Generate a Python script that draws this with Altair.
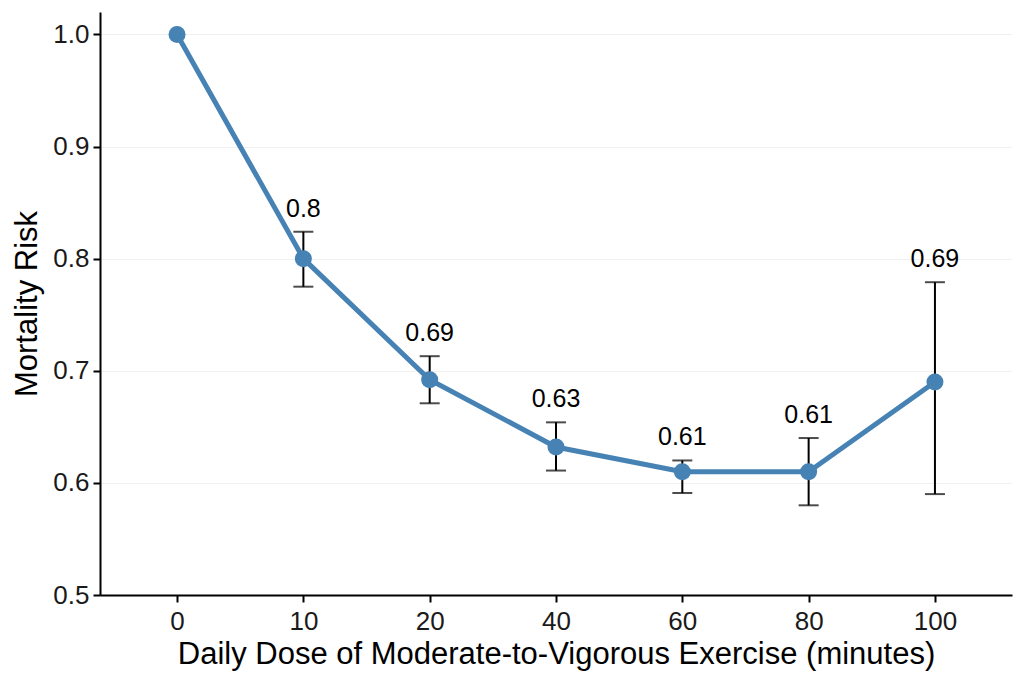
import altair as alt
import pandas as pd

doses = ["0", "10", "20", "40", "60", "80", "100"]
risk = [1.0, 0.8, 0.692, 0.632, 0.61, 0.61, 0.69]
lower = [None, 0.775, 0.671, 0.611, 0.591, 0.58, 0.59]
upper = [None, 0.824, 0.713, 0.654, 0.62, 0.64, 0.779]
labels = ["", "0.8", "0.69", "0.63", "0.61", "0.61", "0.69"]

df = pd.DataFrame({"dose": doses, "risk": risk, "lower": lower,
                   "upper": upper, "label": labels})
err = df[df["lower"].notna()]

FONT = "Liberation Sans"
BLUE = "#4682b4"

xscale = alt.Scale(type="point", padding=0.61)
x = alt.X("dose:O", sort=doses, scale=xscale,
          axis=alt.Axis(title="Daily Dose of Moderate-to-Vigorous Exercise (minutes)",
                        labelAngle=0, grid=False))
xs = alt.X("dose:O", sort=doses, scale=xscale)
yscale = alt.Scale(domain=[0.5, 1.02], nice=False, zero=False)
y = alt.Y("risk:Q", scale=yscale,
          axis=alt.Axis(title="Mortality Risk", values=[0.5, 0.6, 0.7, 0.8, 0.9, 1.0],
                        format=".1f", grid=True))

line = alt.Chart(df).mark_line(color=BLUE, strokeWidth=5).encode(x=x, y=y)
pts = alt.Chart(df).mark_circle(color=BLUE, size=290, opacity=1).encode(x=x, y=y)

rules = alt.Chart(err).mark_rule(color="black", strokeWidth=2).encode(
    x=xs, y=alt.Y("lower:Q", scale=yscale), y2="upper:Q")
cap_lo = alt.Chart(err).mark_tick(color="black", thickness=2, size=20).encode(
    x=xs, y=alt.Y("lower:Q", scale=yscale))
cap_hi = alt.Chart(err).mark_tick(color="black", thickness=2, size=20).encode(
    x=xs, y=alt.Y("upper:Q", scale=yscale))

text = alt.Chart(err).mark_text(font=FONT, fontSize=25, color="black",
                                baseline="alphabetic", dy=-15).encode(
    x=xs, y=alt.Y("upper:Q", scale=yscale), text="label:N")

chart = alt.layer(line, rules, cap_lo, cap_hi, pts, text).properties(
    width=912, height=583,
    autosize=alt.AutoSizeParams(type="none"),
    padding={"left": 92, "top": 4, "right": 4, "bottom": 80},
).configure_view(stroke=None).configure_axis(
    domainColor="black", domainWidth=2, tickColor="black", tickWidth=2, tickSize=7,
    labelFont=FONT, labelFontSize=26, labelColor="#1a1a1a", labelPadding=4,
    titleFont=FONT, titleFontSize=31, titleFontWeight="normal", titleColor="black",
    gridColor="#f0f0f0", gridWidth=1,
).configure_axisX(titlePadding=5, labelPadding=6).configure_axisY(titlePadding=9)

chart.save("out.html", embed_options={"renderer": "svg", "actions": False})
